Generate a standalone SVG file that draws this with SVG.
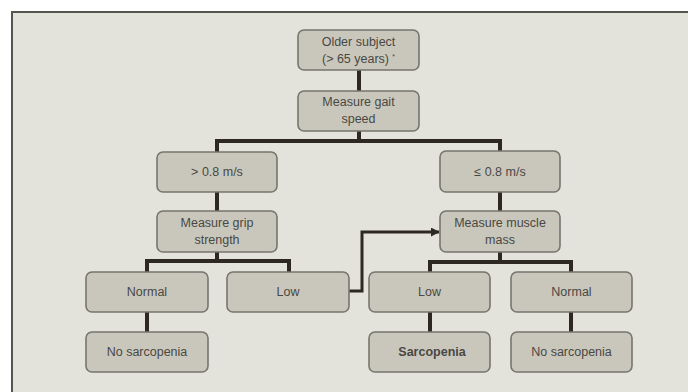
<svg xmlns="http://www.w3.org/2000/svg" width="688" height="392" viewBox="0 0 688 392">
<style>
.box rect{fill:#c9c7bc;stroke:#76756e;stroke-width:1.6}
.box text{font-family:"Liberation Sans",Arial,sans-serif;font-size:12.5px;fill:#4a4843;text-anchor:middle}
.con{fill:none;stroke:#2d2922;stroke-width:4;stroke-linejoin:miter;stroke-linecap:butt}
.arr{fill:none;stroke:#2d2922;stroke-width:3}
</style>
<defs>
<marker id="ah" viewBox="0 0 10 10" refX="9" refY="5" markerWidth="3" markerHeight="3" orient="auto" markerUnits="strokeWidth">
<path d="M0,0 L10,5 L0,10 z" fill="#2d2922"/>
</marker>
</defs>
<rect x="0" y="0" width="688" height="392" fill="#ffffff"/>
<rect x="12" y="12" width="676" height="380" fill="#e3e2db"/>
<path d="M12,392 V12 H688" fill="none" stroke="#555550" stroke-width="2"/>
<g id="connectors">
<path class="con" d="M359,70 V91"/>
<path class="con" d="M359,131 V141"/>
<polyline class="con" points="217,152 217,141 500,141 500,151"/>
<path class="con" d="M217,192 V211"/>
<path class="con" d="M500,192 V211"/>
<path class="con" d="M217,252 V261"/>
<polyline class="con" points="147,272 147,261 289,261 289,272"/>
<path class="con" d="M500,252 V262"/>
<polyline class="con" points="430,272 430,262 571,262 571,272"/>
<path class="con" d="M147,312 V332"/>
<path class="con" d="M430,312 V332"/>
<path class="con" d="M571,312 V332"/>
<polyline class="arr" points="349,291 362,291 362,232 439,232" marker-end="url(#ah)"/>
</g>
<g id="older" class="box"><rect x="298" y="30" width="121" height="40" rx="6"/><text x="358.5" y="46">Older subject</text><text x="355.5" y="63">(&gt; 65 years)</text><text x="393.5" y="59" style="font-size:7px">*</text></g>
<g id="gait" class="box"><rect x="298" y="91" width="121" height="40" rx="6"/><text x="358.5" y="106">Measure gait</text><text x="358.5" y="123">speed</text></g>
<g id="fast" class="box"><rect x="157" y="152" width="120" height="40" rx="6"/><text x="217" y="176">&gt; 0.8 m/s</text></g>
<g id="slow" class="box"><rect x="440" y="151" width="120" height="41" rx="6"/><text x="500" y="176">≤ 0.8 m/s</text></g>
<g id="grip" class="box"><rect x="157" y="211" width="120" height="41" rx="6"/><text x="217" y="227">Measure grip</text><text x="217" y="244">strength</text></g>
<g id="muscle" class="box"><rect x="440" y="211" width="120" height="41" rx="6"/><text x="500" y="227">Measure muscle</text><text x="500" y="244">mass</text></g>
<g id="gripNormal" class="box"><rect x="86" y="272" width="122" height="40" rx="6"/><text x="147" y="296">Normal</text></g>
<g id="gripLow" class="box"><rect x="227" y="272" width="122" height="40" rx="6"/><text x="288" y="296">Low</text></g>
<g id="massLow" class="box"><rect x="369" y="272" width="121" height="40" rx="6"/><text x="429.5" y="296">Low</text></g>
<g id="massNormal" class="box"><rect x="511" y="272" width="121" height="40" rx="6"/><text x="571.5" y="296">Normal</text></g>
<g id="noSarc1" class="box"><rect x="86" y="332" width="122" height="40" rx="6"/><text x="147" y="356">No sarcopenia</text></g>
<g id="sarc" class="box"><rect x="369" y="332" width="121" height="40" rx="6"/><text x="432" y="356" style="font-weight:bold">Sarcopenia</text></g>
<g id="noSarc2" class="box"><rect x="511" y="332" width="121" height="40" rx="6"/><text x="571.5" y="356">No sarcopenia</text></g>
</svg>
